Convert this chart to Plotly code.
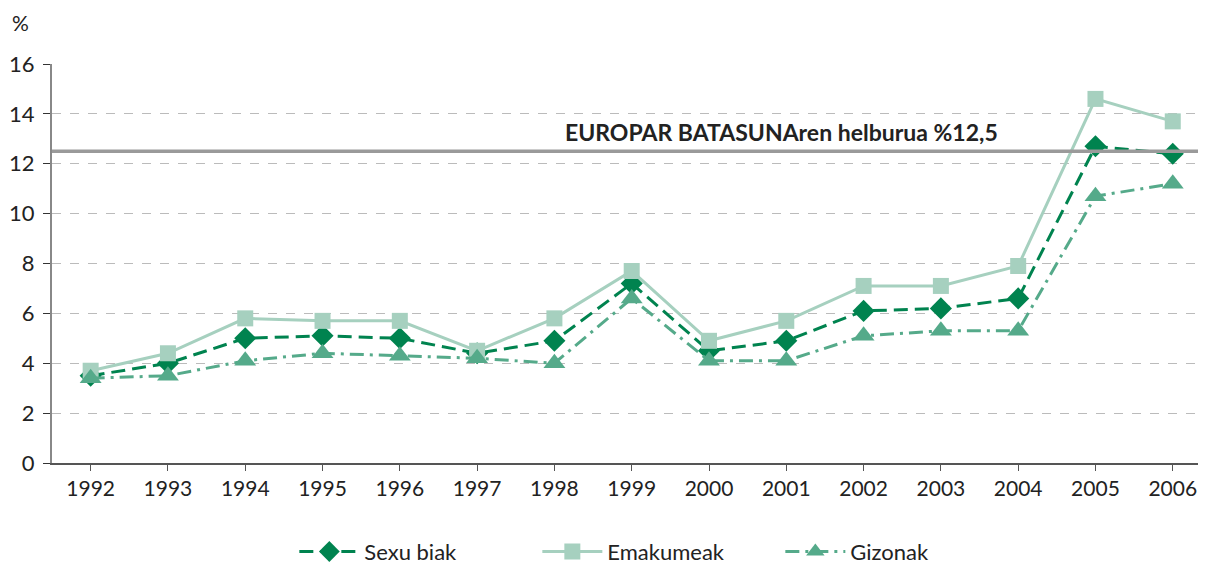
import plotly.graph_objects as go

years = ["1992","1993","1994","1995","1996","1997","1998","1999","2000","2001","2002","2003","2004","2005","2006"]
sexu_biak = [3.5, 4.0, 5.0, 5.1, 5.0, 4.4, 4.9, 7.2, 4.5, 4.9, 6.1, 6.2, 6.6, 12.7, 12.4]
emakumeak = [3.7, 4.4, 5.8, 5.7, 5.7, 4.5, 5.8, 7.7, 4.9, 5.7, 7.1, 7.1, 7.9, 14.6, 13.7]
gizonak = [3.4, 3.5, 4.1, 4.4, 4.3, 4.2, 4.0, 6.6, 4.1, 4.1, 5.1, 5.3, 5.3, 10.7, 11.2]
target = 12.5
target_label = "EUROPAR BATASUNAren helburua %12,5"
y_ticks = [0, 2, 4, 6, 8, 10, 12, 14, 16]

FONT = "Lato"
xs = list(range(len(years)))

fig = go.Figure()
fig.add_trace(go.Scatter(x=xs, y=sexu_biak, name="Sexu biak", mode="lines+markers",
                         line=dict(color="#00834f", width=3, dash="14px,7px"),
                         marker=dict(symbol="diamond", size=17, color="#00834f")))
fig.add_trace(go.Scatter(x=xs, y=emakumeak, name="Emakumeak", mode="lines+markers",
                         line=dict(color="#a6d0bf", width=3),
                         marker=dict(symbol="square", size=16, color="#a6d0bf")))
fig.add_trace(go.Scatter(x=xs, y=gizonak, name="Gizonak", mode="lines+markers",
                         line=dict(color="#55aa8a", width=3, dash="14px,6px,3px,6px"),
                         marker=dict(symbol="triangle-up", size=19, color="#55aa8a")))

fig.add_shape(type="line", xref="paper", x0=0, x1=1, yref="y", y0=target, y1=target,
              line=dict(color="#9a9a9a", width=3.5), layer="above")
fig.add_annotation(x=8.94, y=target, xref="x", yref="y", text="<b>" + target_label + "</b>",
                   showarrow=False, yshift=19, font=dict(family=FONT, size=23, color="#222222"))
fig.add_annotation(x=0, y=1, xref="paper", yref="paper", text="%", showarrow=False,
                   xanchor="center", yanchor="middle",
                   xshift=-32, yshift=42, font=dict(family=FONT, size=21, color="#222222"))

# page body has an 8px default margin; margins compensate for it
fig.update_layout(
    width=1206, height=568,
    margin=dict(l=44, r=8, t=56, b=113, autoexpand=False),
    paper_bgcolor="white", plot_bgcolor="white",
    font=dict(family=FONT, size=20, color="#222222"),
    legend=dict(orientation="h", x=0.21, xanchor="left", y=-0.275, yanchor="bottom",
                traceorder="normal", font=dict(size=22), entrywidth=168, itemwidth=60),
    showlegend=True,
)
fig.update_xaxes(range=[-0.5, 14.43], tickvals=xs, ticktext=years, tickmode="array",
                 showgrid=False, showline=True, linecolor="#555555", linewidth=2,
                 ticks="outside", tickson="boundaries", ticklen=6, tickcolor="#555555",
                 tickfont=dict(size=21), zeroline=False, automargin=False)
fig.update_yaxes(range=[0, 16], tickvals=y_ticks, showgrid=True, gridcolor="#bbbbbb",
                 griddash="dash", gridwidth=1, showline=True, linecolor="#888888", linewidth=2,
                 ticks="outside", ticklen=7, tickcolor="#333333", tickfont=dict(size=22),
                 zeroline=False, ticklabelstandoff=4, automargin=False)

fig.write_html("out.html")
